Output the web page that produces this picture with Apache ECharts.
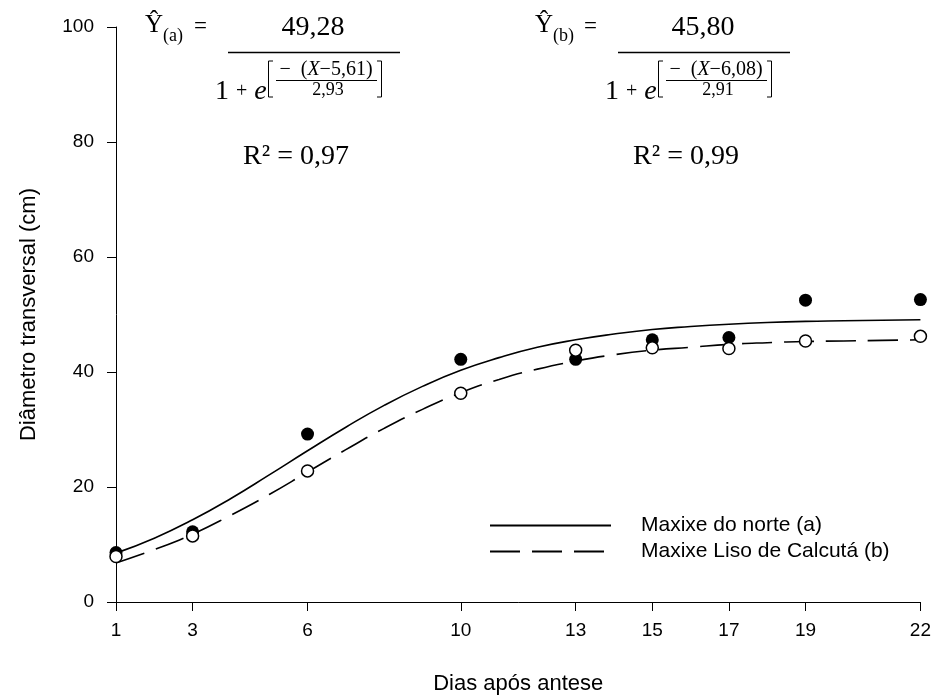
<!DOCTYPE html>
<html>
<head>
<meta charset="utf-8">
<script src="https://cdn.jsdelivr.net/npm/echarts@6/dist/echarts.min.js"></script>
<style>
  html, body { margin: 0; padding: 0; background: #fff; }
  #chart { width: 934px; height: 700px; }
</style>
</head>
<body>
<div id="chart"></div>
<script>
// eixo x: dias após antese
const xTicks = [1, 3, 6, 10, 13, 15, 17, 19, 22]
// pontos observados
const obsA = [8.6, 12.2, 29.2, 42.2, 42.2, 45.6, 46.0, 52.5, 52.6] // Maxixe do norte
const obsB = [7.9, 11.5, 22.8, 36.3, 43.8, 44.2, 44.1, 45.4, 46.2] // Maxixe Liso de Calcutá
// curvas ajustadas
const curveX = [1, 2, 3, 4, 5, 6, 7, 8, 9, 10, 11, 12, 13, 14, 15, 16, 17, 18, 19, 20, 21, 22]
const curveA = [8.5, 11.1, 14.3, 18.0, 22.1, 26.3, 30.4, 34.2, 37.5, 40.3, 42.5, 44.3, 45.6, 46.6, 47.4, 47.9, 48.3, 48.6, 48.8, 48.9, 49.0, 49.1]
const curveB = [6.8, 9.1, 11.8, 15.1, 18.7, 22.6, 26.5, 30.2, 33.5, 36.4, 38.7, 40.5, 41.9, 43.0, 43.8, 44.3, 44.8, 45.1, 45.3, 45.4, 45.5, 45.6]
const seriesNames = ['Maxixe do norte (a)', 'Maxixe Liso de Calcutá (b)']

const pairs = (xs, ys) => xs.map((x, i) => [x, ys[i]])

const SERIF = '"Liberation Serif", "DejaVu Serif", serif'

// equação logística desenhada como texto
const formula = (dx, sub, num, mid, den, r2) => {
  const t = (x, y, text, size, align, extra) => ({
    type: 'text', x: x + dx, y,
    style: Object.assign({ text, fill: '#000', font: `${size}px ${SERIF}`, align: align || 'left', verticalAlign: 'middle' }, extra || {}),
  })
  const ln = (x1, y1, x2, y2, w) => ({
    type: 'line', shape: { x1: x1 + dx, y1, x2: x2 + dx, y2 }, style: { stroke: '#000', lineWidth: w },
  })
  const br = (pts) => ({
    type: 'polyline', shape: { points: pts.map(p => [p[0] + dx, p[1]]) }, style: { stroke: '#000', lineWidth: 1, fill: null },
  })
  return [
    t(145, 25, 'Ŷ', 25),
    t(163, 36, '(' + sub + ')', 18),
    t(194, 27, '=', 23),
    t(313, 28, num, 28, 'center'),
    ln(228, 52.5, 400, 52.5, 1.6),
    t(215, 92, '1 {s|+} {i|e}', 28, 'left', {
      rich: { s: { font: `20px ${SERIF}` }, i: { font: `italic 28px ${SERIF}` } },
    }),
    br([[273, 61], [268.5, 61], [268.5, 97], [273, 97]]),
    t(326, 70, '−  ({i|X}−' + mid + ')', 20, 'center', { rich: { i: { font: `italic 20px ${SERIF}` } } }),
    ln(276, 80.5, 377, 80.5, 1),
    t(328, 90, den, 18, 'center'),
    br([[377, 61], [381.5, 61], [381.5, 97], [377, 97]]),
    t(296, 157, r2, 28, 'center'),
  ]
}

const chart = echarts.init(document.getElementById('chart'))
chart.setOption({
  animation: false,
  backgroundColor: '#fff',
  textStyle: { fontFamily: '"Liberation Sans", Arial, sans-serif', color: '#000' },
  grid: { left: 116, right: 12, top: 27, bottom: 98, containLabel: false },
  xAxis: {
    type: 'value', min: 1, max: 22,
    name: 'Dias após antese', nameLocation: 'middle', nameGap: 71,
    nameTextStyle: { fontSize: 22, color: '#000' },
    splitLine: { show: false },
    axisLine: { onZero: false, lineStyle: { color: '#000', width: 1 } },
    axisTick: { show: true, length: 9, lineStyle: { color: '#000' }, customValues: xTicks },
    axisLabel: { color: '#000', fontSize: 19, margin: 19, customValues: xTicks },
  },
  yAxis: {
    type: 'value', min: 0, max: 100, interval: 20,
    name: 'Diâmetro transversal (cm)', nameLocation: 'middle', nameGap: 76,
    nameTextStyle: { fontSize: 22, color: '#000' },
    splitLine: { show: false },
    axisLine: { show: true, lineStyle: { color: '#000', width: 1 } },
    axisTick: { show: true, length: 9, lineStyle: { color: '#000' } },
    axisLabel: { color: '#000', fontSize: 19, margin: 22 },
  },
  legend: {
    left: 489, top: 515, orient: 'vertical', padding: 0,
    itemWidth: 121, itemHeight: 14, itemGap: 5,
    data: seriesNames,
    itemStyle: { opacity: 0 },
    textStyle: { fontSize: 21, color: '#000', padding: [0, 0, 0, 25] },
  },
  series: [
    {
      name: seriesNames[0], type: 'line', smooth: true, symbol: 'none',
      data: pairs(curveX, curveA),
      itemStyle: { color: '#000' },
      lineStyle: { color: '#000', width: 1.6 }, z: 2,
    },
    {
      name: seriesNames[1], type: 'line', smooth: true, symbol: 'none',
      data: pairs(curveX, curveB),
      itemStyle: { color: '#000' },
      lineStyle: { color: '#000', width: 1.6, type: [30, 12] }, z: 2,
    },
    {
      type: 'scatter', symbol: 'circle', symbolSize: 13,
      data: pairs(xTicks, obsA),
      itemStyle: { color: '#000', opacity: 1 }, z: 3,
    },
    {
      type: 'scatter', symbol: 'circle', symbolSize: 12,
      data: pairs(xTicks, obsB),
      itemStyle: { color: '#fff', borderColor: '#000', borderWidth: 1.5, opacity: 1 }, z: 4,
    },
  ],
  graphic: [
    ...formula(0, 'a', '49,28', '5,61', '2,93', 'R² = 0,97'),
    ...formula(390, 'b', '45,80', '6,08', '2,91', 'R² = 0,99'),
  ],
})
</script>
</body>
</html>
